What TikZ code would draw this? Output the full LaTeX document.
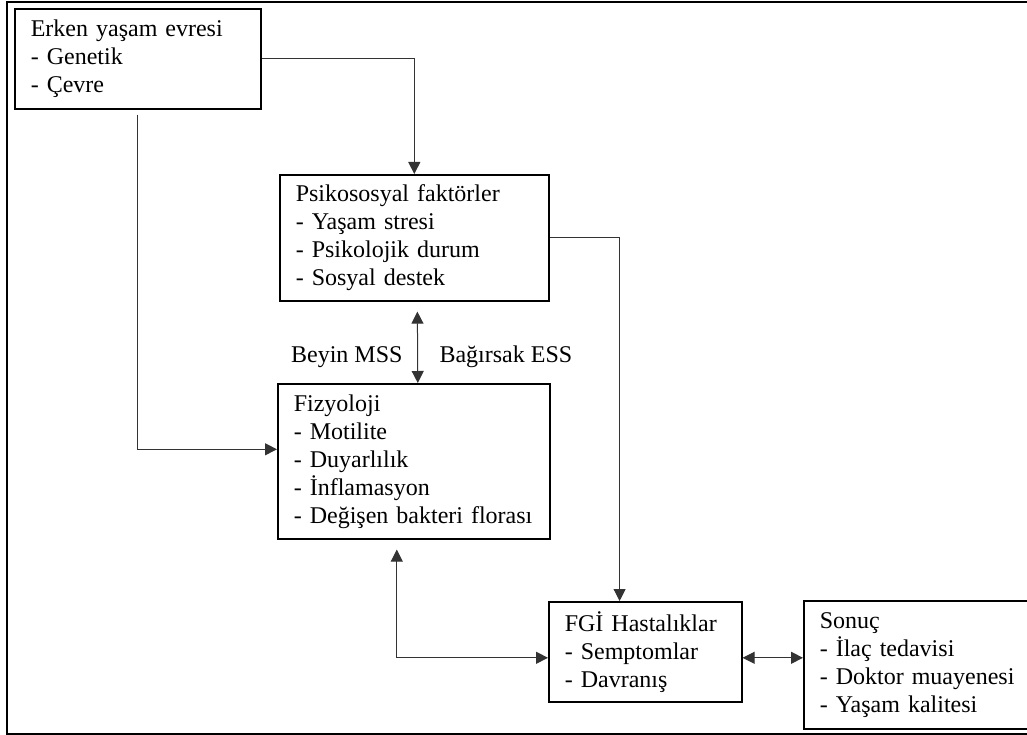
\documentclass[tikz,border=0pt]{standalone}
\usepackage{fontspec}
\setmainfont{Liberation Serif}
\usetikzlibrary{arrows.meta}
\begin{document}
\begin{tikzpicture}[x=1pt,y=-1pt,
    yazi/.style={font=\fontsize{24}{28}\selectfont},
    kutu/.style={yazi,draw,line width=1.6pt,anchor=north west,align=left,inner xsep=16pt,inner ysep=0pt},
    ok/.style={line width=1pt,draw=black!80,-{Triangle[length=12pt,width=12pt]}},
    ciftok/.style={line width=1pt,draw=black!80,{Triangle[length=12pt,width=12pt]}-{Triangle[length=12pt,width=12pt]}}]
                    \useasboundingbox (0,0) rectangle (1027,735);
                    \clip (0,0) rectangle (1027,735);
                    \draw[line width=1.8pt] (1040,2) -- (7,2) -- (7,734) -- (1040,734);
                    \node[kutu,text width=214pt,minimum height=100pt] (erken) at (14,8) {Erken yaşam evresi\\- Genetik\\- Çevre};
                    \node[kutu,text width=237pt,minimum height=126pt] (psiko) at (279,174) {Psikososyal faktörler\\- Yaşam stresi\\- Psikolojik durum\\- Sosyal destek};
                    \node[kutu,text width=240pt,minimum height=155pt] (fizyo) at (277,383) {Fizyoloji\\- Motilite\\- Duyarlılık\\- İnflamasyon\\- Değişen bakteri florası};
                    \node[kutu,text width=161pt,minimum height=100pt] (fgi) at (548,601) {FGİ Hastalıklar\\- Semptomlar\\- Davranış};
                    \node[kutu,text width=210pt,minimum height=128pt] (sonuc) at (803,600) {Sonuç\\- İlaç tedavisi\\- Doktor muayenesi\\- Yaşam kalitesi};
                    \node[yazi,anchor=base east] (beyin) at (406,362) {Beyin MSS};
                    \node[yazi,anchor=base west] (bagirsak) at (436,362) {Bağırsak ESS};
                    \coordinate (donus) at ([xshift=70]psiko.east);
                    \draw[ok] (erken.east) -| (psiko.north);
                    \draw[ok] (psiko.east) -- (donus) -- (donus |- fgi.north);
                    \draw[ok] ([yshift=-5]erken.south) |- ([yshift=12]fizyo.west);
                    \draw[ciftok,shorten <=10pt] ([xshift=3]psiko.south) -- ([xshift=4]fizyo.north);
                    \draw[ciftok,shorten <=10pt] ([xshift=-17]fizyo.south) |- ([yshift=-6]fgi.west);
                    \draw[ciftok] ([yshift=-6]fgi.east) -- ([yshift=-6]fgi.east -| sonuc.west);
                \end{tikzpicture}
\end{document}
